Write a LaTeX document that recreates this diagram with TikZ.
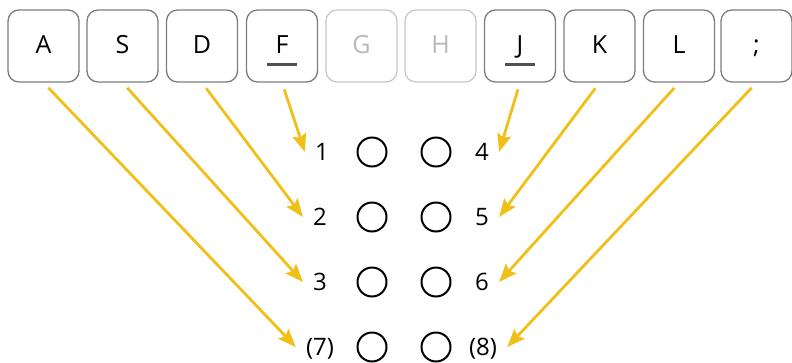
\documentclass[tikz,border=0pt]{standalone}
\usepackage{fontspec}
\setmainfont{Open Sans}
\usetikzlibrary{arrows.meta,calc}
\definecolor{arrowgold}{RGB}{240,192,24}
\definecolor{keyedge}{RGB}{125,125,125}
\definecolor{keyfaint}{RGB}{200,200,200}
\definecolor{textfaint}{RGB}{185,185,185}
\definecolor{ulinegray}{RGB}{80,80,80}
\begin{document}
\begin{tikzpicture}[x=1pt,y=-1pt,
  key/.style={draw=keyedge, line width=1.3pt, rounded corners=11pt,
    minimum width=71pt, minimum height=72pt, inner sep=0pt,
    font=\fontsize{25}{25}\selectfont, text=black,
    text height=17.5pt, text depth=2pt},
  faintkey/.style={key, draw=keyfaint, text=textfaint},
  lab/.style={font=\fontsize{24}{24}\selectfont, text=black,
    inner xsep=10pt, inner ysep=0pt, text height=17pt, text depth=0pt},
  hole/.style={circle, draw=black, line width=2pt,
    minimum size=29pt, inner sep=0pt},
  finger/.style={draw=arrowgold, line width=2.8pt,
    -{Stealth[length=18pt,width=14pt,inset=3pt]}, shorten <=7pt},
  uline/.style={draw=ulinegray, line width=3pt}]
\useasboundingbox (0,0) rectangle (792,362);
% keys
\node[key]      (kA) at (43.5,46)  {A};
\node[key]      (kS) at (122.5,46) {S};
\node[key]      (kD) at (202,46)   {D};
\node[key]      (kF) at (282,46)   {F};
\node[faintkey] (kG) at (361.5,46) {G};
\node[faintkey] (kH) at (440.5,46) {H};
\node[key]      (kJ) at (520,46)   {J};
\node[key]      (kK) at (599.5,46) {K};
\node[key]      (kL) at (679,46)   {L};
\node[key]      (kP) at (756.5,46) {;};
% home-row marks
\draw[uline] ($(kF.center)+(-15,18)$) -- ($(kF.center)+(15,18)$);
\draw[uline] ($(kJ.center)+(-15,18)$) -- ($(kJ.center)+(15,18)$);
% dots
\foreach \r/\y in {1/152,2/217,3/282,4/347}{
  \node[hole] (ca\r) at (372,\y) {};
  \node[hole] (cb\r) at (436,\y) {};
}
% labels
\node[lab] (l1) at (322,152) {1};
\node[lab] (l2) at (320,217) {2};
\node[lab] (l3) at (320,282) {3};
\node[lab] (l7) at (320,347) {(7)};
\node[lab] (l4) at (482,152) {4};
\node[lab] (l5) at (482,217) {5};
\node[lab] (l6) at (482,282) {6};
\node[lab] (l8) at (483,347) {(8)};
% arrows
\draw[finger] (kA.south) -- (l7.west);
\draw[finger] (kS.south) -- (l3.west);
\draw[finger] (kD.south) -- (l2.west);
\draw[finger] (kF.south) -- (l1.west);
\draw[finger] (kJ.south) -- (l4.east);
\draw[finger] (kK.south) -- (l5.east);
\draw[finger] (kL.south) -- (l6.east);
\draw[finger] (kP.south) -- (l8.east);
\end{tikzpicture}
\end{document}
